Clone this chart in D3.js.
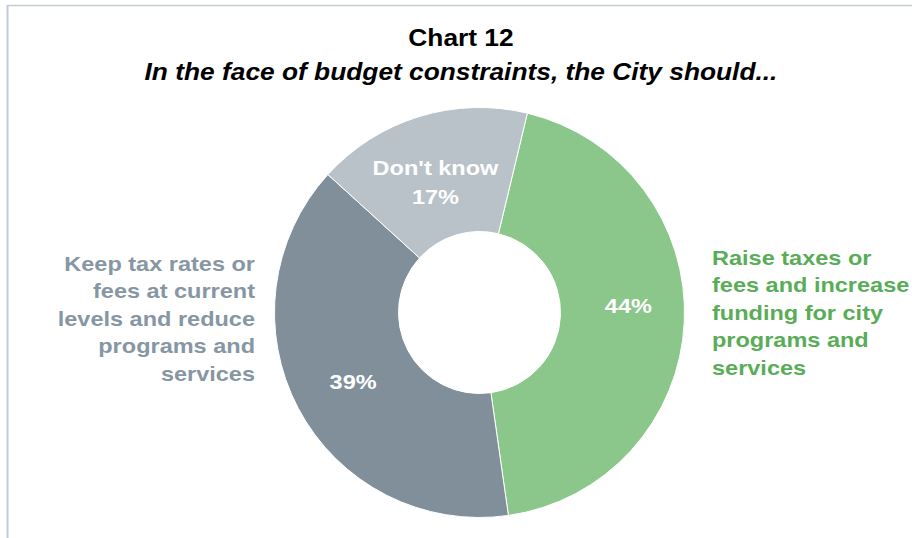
<!DOCTYPE html>
<html>
<head>
<meta charset="utf-8">
<script src="https://cdn.jsdelivr.net/npm/d3@7"></script>
<style>
  body { margin: 0; background: #fff; }
  svg text { font-family: "Liberation Sans", Arial, sans-serif; font-weight: bold; }
</style>
</head>
<body>
<svg id="chart"></svg>
<script>
const categories = ["Raise taxes or fees and increase funding for city programs and services",
  "Keep tax rates or fees at current levels and reduce programs and services",
  "Don't know"];
const shares = [44, 39, 17];
const colors = ["#8bc68a", "#808f9a", "#b9c2c9"];
const outsideLabels = [
  ["Raise taxes or", "fees and increase", "funding for city", "programs and", "services"],
  ["Keep tax rates or", "fees at current", "levels and reduce", "programs and", "services"],
  null
];
const labelColors = ["#5aad58", "#8796a3", null];

const width = 912, height = 538;
const cx = 479.5, cy = 312.5, outerR = 205, innerR = 81;
const stretch = 1.12; // text in the reference is slightly wide

const svg = d3.select("#chart").attr("width", width).attr("height", height);

// frame lines
svg.append("line").attr("x1", 7).attr("x2", width).attr("y1", 5.5).attr("y2", 5.5)
  .attr("stroke", "#c3ccd4").attr("stroke-width", 1.5);
svg.append("line").attr("x1", 7.5).attr("x2", 7.5).attr("y1", 5).attr("y2", height)
  .attr("stroke", "#c3ccd4").attr("stroke-width", 2);

function wideText(x, y) {
  return svg.append("text").attr("transform", `translate(${x},${y}) scale(${stretch},1)`);
}

wideText(461, 46).attr("text-anchor", "middle").attr("font-size", 23.5).text("Chart 12");
wideText(461, 80).attr("text-anchor", "middle").attr("font-size", 23.5)
  .attr("font-style", "italic")
  .text("In the face of budget constraints, the City should...");

const startA = 13.5 * Math.PI / 180;
const pie = d3.pie().sort(null).value(d => d)
  .startAngle(startA).endAngle(startA + 2 * Math.PI);
const arc = d3.arc().innerRadius(innerR).outerRadius(outerR);
const arcs = pie(shares);

const g = svg.append("g").attr("transform", `translate(${cx},${cy})`);
g.selectAll("path").data(arcs).enter().append("path")
  .attr("d", arc).attr("fill", (d, i) => colors[i])
  .attr("stroke", "#fff").attr("stroke-width", 1);

// inside labels
const labelArc = d3.arc().innerRadius(143).outerRadius(143);
const nudge = [[6, -14], [0, 2], [-2, 0]];
arcs.forEach((d, i) => {
  const c = labelArc.centroid(d);
  const x = cx + c[0] + nudge[i][0], y = cy + c[1] + nudge[i][1];
  const t = svg.append("text").attr("text-anchor", "middle")
    .attr("transform", `translate(${x},${y}) scale(${stretch},1)`)
    .attr("fill", "#fff").attr("font-size", 21);
  if (i === 2) {
    t.append("tspan").attr("x", 0).attr("y", -1).text("Don't know");
    t.append("tspan").attr("x", 0).attr("y", 28).text(shares[i] + "%");
  } else {
    t.attr("y", 7.5).text(shares[i] + "%");
  }
});

// outside category labels
const outPos = [{ x: 712, y: 265, anchor: "start" }, { x: 255, y: 271, anchor: "end" }];
outsideLabels.forEach((lines, i) => {
  if (!lines) return;
  const t = wideText(outPos[i].x, outPos[i].y).attr("text-anchor", outPos[i].anchor)
    .attr("fill", labelColors[i]).attr("font-size", 21);
  lines.forEach((ln, j) => {
    t.append("tspan").attr("x", 0).attr("y", j * 27.5).text(ln);
  });
});
</script>
</body>
</html>
